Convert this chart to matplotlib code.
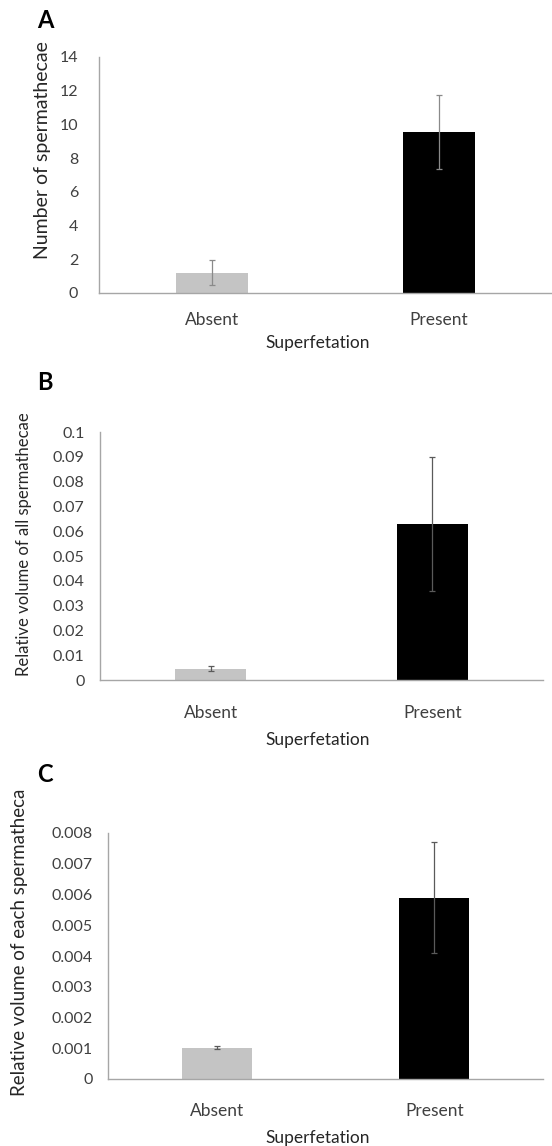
import matplotlib
matplotlib.use('Agg')
import matplotlib.pyplot as plt

matplotlib.rcParams.update({'font.family': ['Lato', 'DejaVu Sans']})

groups = ['Absent', 'Present']
n_sperm = [1.2, 9.55]
n_sperm_err = [0.75, 2.2]
vol_all = [0.0045, 0.063]
vol_all_err = [0.001, 0.027]
vol_each = [0.00102, 0.0059]
vol_each_err = [0.00006, 0.0018]

W, H = 552, 1146
fig = plt.figure(figsize=(W / 100, H / 100), dpi=100)

def px_axes(l, r, t, b):
    return fig.add_axes([l / W, 1 - b / H, (r - l) / W, (b - t) / H])

BAR_COLORS = ['#c4c4c4', '#000000']
AXIS_C = '#a6a6a6'
TXT_C = '#404040'

panels = [
    # rect in px, ylabel centre in px (x, y)
    dict(rect=(99, 552, 57, 293), vals=n_sperm, errs=n_sperm_err, ymax=14,
         yt=[0, 2, 4, 6, 8, 10, 12, 14], ytl=None, ylab='Number of spermathecae',
         ylsize=14, ylpos=(43, 150), ypad=15, xpad=14, lpad=5, ecol='#8a8a8a',
         letter='A', ly=21),
    dict(rect=(100, 543, 432, 680), vals=vol_all, errs=vol_all_err, ymax=0.1,
         yt=[i / 100 for i in range(11)], ytl=['0'] + [f'{i/100:g}' for i in range(1, 11)],
         ylab='Relative volume of all spermathecae', ylsize=12, ylpos=(25, 544), ypad=11,
         xpad=18, lpad=8, ecol='#5a5a5a', letter='B', ly=383),
    dict(rect=(108, 543, 833, 1079), vals=vol_each, errs=vol_each_err, ymax=0.008,
         yt=[i / 1000 for i in range(9)], ytl=['0'] + [f'{i/1000:.3f}' for i in range(1, 9)],
         ylab='Relative volume of each spermatheca', ylsize=13.5, ylpos=(20, 942), ypad=11,
         xpad=17, lpad=8, ecol='#5a5a5a', letter='C', ly=775),
]

for p in panels:
    l, r, t, b = p['rect']
    ax = px_axes(l, r, t, b)
    x = [0, 1]
    ax.bar(x, p['vals'], width=0.32, color=BAR_COLORS, zorder=2)
    ax.errorbar(x, p['vals'], yerr=p['errs'], fmt='none', ecolor=p['ecol'], elinewidth=0.9,
                capsize=2, capthick=0.9, zorder=3)
    ax.set_xlim(-0.5, 1.5)
    ax.set_ylim(0, p['ymax'])
    ax.set_yticks(p['yt'])
    if p['ytl'] is not None:
        ax.set_yticklabels(p['ytl'])
    ax.set_xticks(x)
    ax.set_xticklabels(groups)
    ax.tick_params(length=0, labelsize=11.5, colors=TXT_C)
    ax.tick_params(axis='y', pad=p['ypad'])
    ax.tick_params(axis='x', pad=p['xpad'], labelsize=12.5)
    for s in ['top', 'right']:
        ax.spines[s].set_visible(False)
    for s in ['left', 'bottom']:
        ax.spines[s].set_color(AXIS_C)
        ax.spines[s].set_linewidth(1.0)
    ax.set_ylabel(p['ylab'], fontsize=p['ylsize'], color='#262626')
    # label anchor is its baseline side, so push right by about half the text height
    lx = p['ylpos'][0] + p['ylsize'] * 0.6
    ax.yaxis.set_label_coords((lx - l) / (r - l), (b - p['ylpos'][1]) / (b - t))
    ax.set_xlabel('Superfetation', fontsize=12.5, color='#262626', labelpad=p['lpad'])
    ax.xaxis.label.set_x((318 - l) / (r - l))
    fig.text(45 / W, 1 - p['ly'] / H, p['letter'], fontsize=17, fontweight='bold',
             ha='center', va='center')

fig.savefig('out.png', dpi=100)
